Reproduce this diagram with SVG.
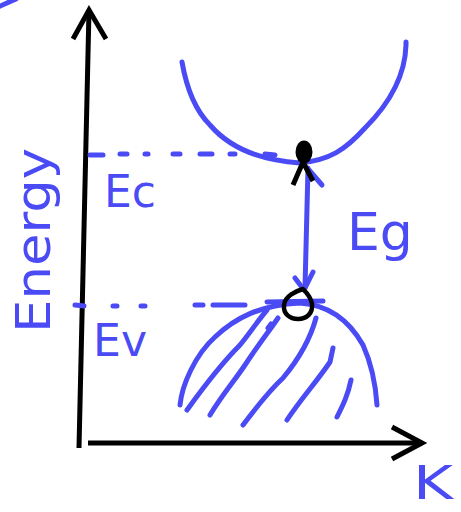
<svg xmlns="http://www.w3.org/2000/svg" width="461" height="512" viewBox="0 0 461 512">
<style>
.b{fill:none;stroke:#4b4bf5;stroke-width:5;stroke-linecap:round;stroke-linejoin:round}
.k{fill:none;stroke:#000;stroke-width:5;stroke-linecap:butt;stroke-linejoin:miter}
.t{fill:#4b4bf5;font-family:"DejaVu Sans",sans-serif}
</style>
<rect width="461" height="512" fill="#fff"/>
<path class="b" d="M-2,7 L16,-1"/>
<g id="axes">
<path class="k" d="M79,448 L89,10"/>
<path class="k" d="M73,39 L89,10 L106,39"/>
<path class="k" d="M88,443 L422,443"/>
<path class="k" d="M392,427 L422,443 L392,459"/>
</g>
<g id="conduction-band">
<path class="b" d="M182,62 C186,85 195,110 210,125 C228,146 255,160 300,163 C330,160 345,150 365,128 C385,108 405,80 406,45 L406,42"/>
<path class="b" d="M90,155 L103,155 M120,154 L127,154 M145,154 L148,154 M173,154 L180,154 M200,154 L212,154 M230,154 L235,154 M265,154 L275,155"/>
</g>
<g id="valence-band">
<path class="b" d="M180,405 C182,385 195,355 215,337 C235,318 260,305 300,303 C330,305 350,322 363,345 C372,365 376,390 377,405"/>
<path class="b" d="M75,305 L84,306 M113,306 L117,306 M141,306 L145,306 M195,305 L203,305 M213,305 L245,305"/>
<path class="b" stroke-width="7" d="M267,302 L323,301"/>
<path class="b" d="M187,410 C205,385 225,360 240,345 C252,330 260,318 267,310"/>
<path class="b" d="M210,415 C222,395 235,380 245,365 C258,345 270,330 278,318"/>
<path class="b" d="M268,328 L271,324"/>
<path class="b" d="M243,425 C258,405 270,390 283,378 C298,360 310,340 316,318"/>
<path class="b" d="M287,420 C300,400 318,380 330,362 L333,348"/>
<path class="b" d="M337,417 C343,405 348,395 351,380"/>
</g>
<g id="gap-arrow">
<path class="b" d="M308,168 C307,210 306,250 305,288"/>
<path class="b" d="M295,278 L304,290 L313,272"/>
<path class="b" d="M309,170 L322,185"/>
</g>
<g id="electron">
<ellipse cx="304" cy="152" rx="8.5" ry="11.5" fill="#000"/>
<path class="k" stroke-width="5" d="M293,185 L303,162 L313,181"/>
</g>
<g id="hole">
<path fill="none" stroke="#000" stroke-width="4.5" stroke-linejoin="round" d="M303,289 C296,291 285,296 284,305 C283,314 290,319 298,319 C307,319 313,313 312,304 C311,297 306,292 303,289 Z"/>
</g>
<g id="labels">
<text class="t" transform="translate(50,333) rotate(-90)" font-size="48" textLength="185" lengthAdjust="spacingAndGlyphs">Energy</text>
<text class="t" x="104" y="207" font-size="44">Ec</text>
<text class="t" x="347" y="250" font-size="52">Eg</text>
<text class="t" x="93" y="356" font-size="45" textLength="54" lengthAdjust="spacingAndGlyphs">Ev</text>
<text class="t" x="413" y="499" font-size="46" textLength="40" lengthAdjust="spacingAndGlyphs">K</text>
</g>
</svg>
